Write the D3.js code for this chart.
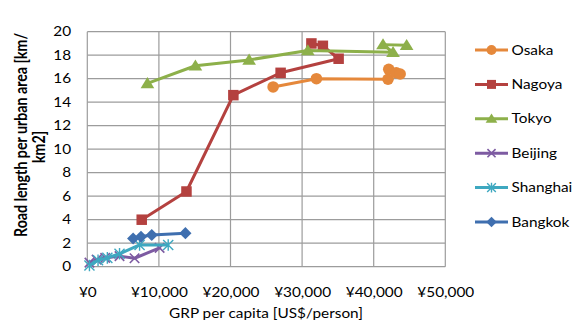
<!DOCTYPE html>
<html>
<head>
<meta charset="utf-8">
<script src="https://cdn.jsdelivr.net/npm/d3@7/dist/d3.min.js"></script>
<style>
  html, body { margin: 0; padding: 0; background: #fff; }
  svg { display: block; }
  text { font-family: Lato, "Open Sans", sans-serif; fill: #000; }
</style>
</head>
<body>
<svg id="chart" width="572" height="320"></svg>
<script>
// GRP per capita (US$/person) vs road length per urban area (km/km2)
const cities = ["Osaka", "Nagoya", "Tokyo", "Beijing", "Shanghai", "Bangkok"];

const osaka    = [[25950, 15.3], [32000, 16.0], [42000, 15.95], [42100, 16.8], [43150, 16.5], [43700, 16.4]];
const nagoya   = [[7600, 4.0], [13850, 6.4], [20400, 14.6], [27000, 16.5], [35100, 17.7], [32900, 18.8], [31300, 19.0]];
const tokyo    = [[8400, 15.6], [15100, 17.1], [22600, 17.6], [30800, 18.4], [42700, 18.25], [41300, 18.9], [44600, 18.85]];
const beijing  = [[300, 0.35], [1300, 0.6], [2500, 0.75], [4500, 0.9], [6600, 0.72], [10100, 1.6]];
const shanghai = [[300, 0.1], [1500, 0.55], [2800, 0.75], [4500, 1.1], [7300, 1.85], [11300, 1.85]];
const bangkok  = [[6400, 2.4], [7500, 2.55], [9000, 2.7], [13700, 2.85]];

const xTicks = [0, 10000, 20000, 30000, 40000, 50000];
const yTicks = [0, 2, 4, 6, 8, 10, 12, 14, 16, 18, 20];

const seriesData = [osaka, nagoya, tokyo, beijing, shanghai, bangkok];
const colors  = ["#E5883B", "#B4413F", "#8DB04A", "#7D5BA2", "#3EA8C0", "#3F6FAF"];
const symbols = ["circle", "square", "triangle", "cross", "star", "diamond"];

const svg = d3.select("#chart");
const stretch = 1.2;   // glyphs are drawn a little wider than tall

const x = d3.scaleLinear().domain([0, 50000]).range([87.3, 445.3]);
const y = d3.scaleLinear().domain([0, 20]).range([266.7, 31.7]);

// grid
const grid = svg.append("g");
grid.selectAll("line.h").data(yTicks).join("line")
  .attr("x1", x(0)).attr("x2", x(50000))
  .attr("y1", d => y(d)).attr("y2", d => y(d))
  .attr("stroke", "#9c9c9c").attr("stroke-width", 1.2);
grid.selectAll("line.v").data(xTicks).join("line")
  .attr("y1", y(0)).attr("y2", y(20))
  .attr("x1", d => x(d)).attr("x2", d => x(d))
  .attr("stroke", "#9c9c9c").attr("stroke-width", 1.2);

// axes (labels only)
const yAxis = svg.append("g").attr("transform", `translate(${x(0)},0)`)
  .call(d3.axisLeft(y).tickValues(yTicks).tickSize(0).tickPadding(13.5));
const xAxis = svg.append("g").attr("transform", `translate(0,${y(0)})`)
  .call(d3.axisBottom(x).tickValues(xTicks).tickSize(0).tickPadding(21)
    .tickFormat(d => "¥" + d3.format(",")(d)));
[yAxis, xAxis].forEach(a => {
  a.select(".domain").remove();
  a.selectAll("text")
    .attr("font-size", 12.8)
    .attr("font-family", "Lato, sans-serif")
    .attr("fill", "#000")
    .attr("transform", `scale(${stretch},1)`);
});

// marker shapes
function marker(g, type, color, size) {
  const s = size;
  if (type === "circle") {
    g.append("circle").attr("r", s * 0.55).attr("fill", color);
  } else if (type === "square") {
    g.append("rect").attr("x", -s / 2).attr("y", -s / 2).attr("width", s).attr("height", s).attr("fill", color);
  } else if (type === "triangle") {
    const h = s * 1.0;
    g.append("path").attr("d", `M0,${-h * 0.6}L${s * 0.65},${h * 0.45}L${-s * 0.65},${h * 0.45}Z`).attr("fill", color);
  } else if (type === "diamond") {
    const r = s * 0.58;
    g.append("path").attr("d", `M0,${-r}L${r},0L0,${r}L${-r},0Z`).attr("fill", color);
  } else if (type === "cross") {
    const r = s * 0.45;
    g.append("path").attr("d", `M${-r},${-r}L${r},${r}M${-r},${r}L${r},${-r}`)
      .attr("stroke", color).attr("stroke-width", 1.6);
  } else if (type === "star") {
    const r = s * 0.48;
    g.append("path").attr("d", `M${-r},${-r}L${r},${r}M${-r},${r}L${r},${-r}M0,${-r * 1.15}L0,${r * 1.15}`)
      .attr("stroke", color).attr("stroke-width", 1.4);
  }
}

const line = d3.line().x(d => x(d[0])).y(d => y(d[1]));

const plot = svg.append("g");
seriesData.forEach((data, i) => {
  const g = plot.append("g");
  g.append("path").datum(data).attr("d", line)
    .attr("fill", "none").attr("stroke", colors[i]).attr("stroke-width", 3)
    .attr("stroke-linejoin", "round");
  g.selectAll("g.m").data(data).join("g")
    .attr("transform", d => `translate(${x(d[0])},${y(d[1])})`)
    .each(function () { marker(d3.select(this), symbols[i], colors[i], 10.5); });
});

// legend
const legend = svg.append("g");
cities.forEach((name, i) => {
  const ly = 50 + i * 34.4;
  const row = legend.append("g").attr("transform", `translate(0,${ly})`);
  row.append("line").attr("x1", 475).attr("x2", 508).attr("y1", 0).attr("y2", 0)
    .attr("stroke", colors[i]).attr("stroke-width", 3);
  const m = row.append("g").attr("transform", "translate(491.5,0)");
  marker(m, symbols[i], colors[i], 9);
  row.append("text")
    .attr("transform", `translate(511.5,4.5) scale(${stretch},1)`)
    .attr("font-size", 12.8)
    .text(name);
});

// axis titles
svg.append("text")
  .attr("transform", `translate(266,317.5) scale(${stretch},1)`)
  .attr("text-anchor", "middle").attr("font-size", 12.8)
  .text("GRP per capita [US$/person]");

svg.append("text")
  .attr("transform", "translate(27,135) rotate(-90) scale(1,1.15)")
  .attr("text-anchor", "middle").attr("font-size", 14.2).attr("font-weight", "bold")
  .text("Road length per urban area  [km/");
svg.append("text")
  .attr("transform", "translate(45,147) rotate(-90) scale(1,1.15)")
  .attr("text-anchor", "middle").attr("font-size", 14.2).attr("font-weight", "bold")
  .text("km2]");
</script>
</body>
</html>
